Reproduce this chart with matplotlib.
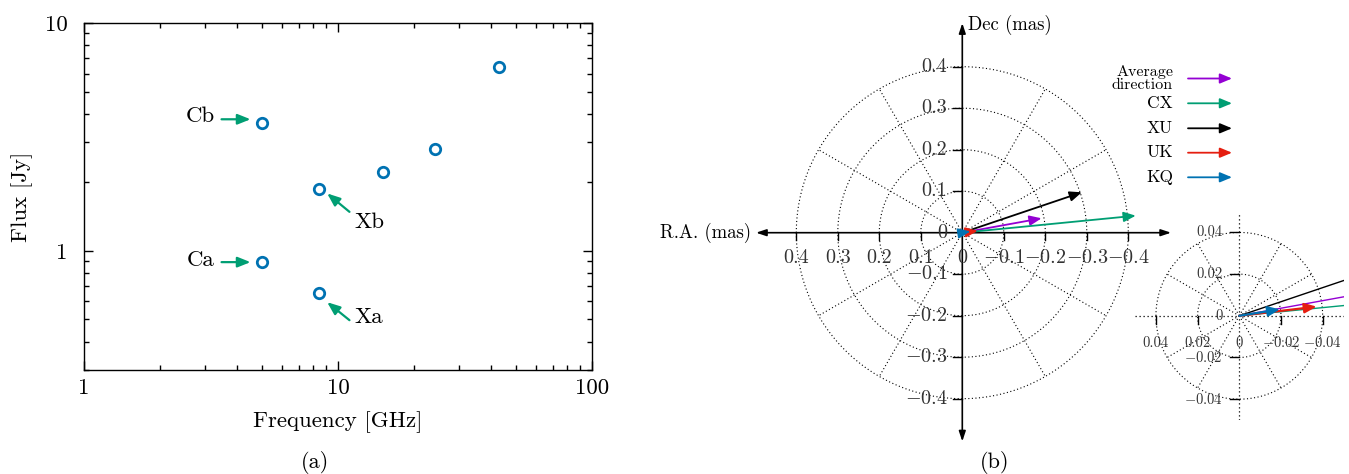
import numpy as np
import matplotlib
matplotlib.use('Agg')
import matplotlib.pyplot as plt
import matplotlib.transforms as mtransforms
from matplotlib.ticker import FixedLocator, FixedFormatter, NullFormatter, LogLocator

plt.rcParams['font.family'] = ['cmr10', 'DejaVu Serif']
plt.rcParams['mathtext.fontset'] = 'cm'
plt.rcParams['axes.unicode_minus'] = False
plt.rcParams['axes.formatter.use_mathtext'] = True

# ---------------- data: panel (a) ----------------
freq_ghz = [5.0, 5.0, 8.4, 8.4, 15.0, 24.0, 43.0]
flux_jy = [3.63, 0.895, 1.86, 0.65, 2.22, 2.80, 6.41]
point_labels = ['Cb', 'Ca', 'Xb', 'Xa']
x_ticks = [1, 10, 100]
x_ticklabels = ['1', '10', '100']
y_ticks = [1, 10]
y_ticklabels = ['1', '10']

# ---------------- data: panel (b) ----------------
vector_names = ['Average\ndirection', 'CX', 'XU', 'UK', 'KQ']
vector_ra = [-0.191, -0.418, -0.288, -0.0371, -0.0195]
vector_dec = [0.0347, 0.041, 0.0973, 0.0044, 0.0031]
vector_colors = ['#9400D3', '#009E73', '#000000', '#E51E10', '#0072B2']
main_ticks = [0.4, 0.3, 0.2, 0.1, 0.0, -0.1, -0.2, -0.3, -0.4]
main_rings = [0.1, 0.2, 0.3, 0.4]
inset_ticks = [0.04, 0.02, 0.0, -0.02, -0.04]
inset_rings = [0.02, 0.04]

W, H = 1349, 474
fig = plt.figure(figsize=(W / 100, H / 100), dpi=100)


def fx(px):
    return px / W


def fy(py):
    return 1 - py / H


def fmt(v, nd):
    s = f"{abs(v):.{nd}f}".rstrip('0').rstrip('.') if v != 0 else '0'
    if v < 0:
        return r'$-$' + s
    return s

# ================= panel (a) =================
ax1 = fig.add_axes([fx(84), fy(370), (592 - 84) / W, (370 - 23) / H])
ax1.set_xscale('log')
ax1.set_yscale('log')
ax1.set_xlim(1, 100)
ax1.set_ylim(0.3, 10)
ax1.plot(freq_ghz, flux_jy, 'o', mfc='none', mec='#0072B2', mew=2.0, ms=7.5,
         zorder=3)
ax1.xaxis.set_major_locator(FixedLocator(x_ticks))
ax1.xaxis.set_major_formatter(FixedFormatter(x_ticklabels))
ax1.yaxis.set_major_locator(FixedLocator(y_ticks))
ax1.yaxis.set_major_formatter(FixedFormatter(y_ticklabels))
ax1.xaxis.set_minor_locator(LogLocator(base=10, subs=np.arange(2, 10)))
ax1.yaxis.set_minor_locator(LogLocator(base=10, subs=np.arange(2, 10)))
ax1.xaxis.set_minor_formatter(NullFormatter())
ax1.yaxis.set_minor_formatter(NullFormatter())
ax1.tick_params(which='both', direction='in', top=True, right=True, width=1.0,
                labelsize=16.5)
ax1.tick_params(which='major', length=6.5)
ax1.tick_params(which='minor', length=3.6)
ax1.tick_params(axis='x', pad=6)
ax1.tick_params(axis='y', pad=12)
for sp in ax1.spines.values():
    sp.set_linewidth(1.0)

fig.text(fx(22), fy(197), 'Flux [Jy]', rotation=90, ha='center', va='center',
         fontsize=16.5)
fig.text(fx(338), fy(422), 'Frequency [GHz]', ha='center', va='center',
         fontsize=16.5)


def off(dx, dy):
    # offset in pixels (right, up) from a data point
    return ax1.transData + mtransforms.ScaledTranslation(dx / 100, dy / 100,
                                                        fig.dpi_scale_trans)

# (tip dx, tip dy, tail dx, tail dy, text dx, text dy, ha)
ann_layout = [
    (-11, 4, -40, 4, -47, 7.3, 'right'),
    (-11, -0.3, -40, -0.3, -47, 1.7, 'right'),
    (8.4, -4, 30.7, -22.4, 35.7, -32.4, 'left'),
    (8.4, -8.7, 30.7, -26.7, 35.7, -23.4, 'left'),
]
for i, lab in enumerate(point_labels):
    tx, ty, sx, sy, lx, ly, ha = ann_layout[i]
    f, s = freq_ghz[i], flux_jy[i]
    ax1.annotate('', xy=(f, s), xycoords=off(tx, ty),
                 xytext=(f, s), textcoords=off(sx, sy),
                 arrowprops=dict(arrowstyle='-|>,head_length=0.55,head_width=0.22',
                                 color='#009E73', lw=1.6, shrinkA=0, shrinkB=0,
                                 mutation_scale=14))
    ax1.text(f, s, lab, transform=off(lx, ly), ha=ha, va='center',
             fontsize=16.5)

fig.text(fx(315), fy(463), '(a)', ha='center', va='center', fontsize=16)

# ================= panel (b) =================
S = 415.0  # pixels per mas
cx, cy = 962.3, 232.7
L = 0.52
ax2 = fig.add_axes([fx(cx - L * S), fy(cy + L * S), 2 * L * S / W, 2 * L * S / H])
ax2.set_xlim(L, -L)
ax2.set_ylim(-L, L)
ax2.axis('off')

dot = (0, (1.0, 2.2))
theta = np.linspace(0, 2 * np.pi, 721)
for r in main_rings:
    ax2.plot(r * np.cos(theta), r * np.sin(theta), color='k', lw=0.8, ls=dot)
rmax = max(main_rings)
for ang in range(30, 360, 30):
    if ang % 90 == 0:
        continue
    a = np.deg2rad(ang)
    ax2.plot([0, rmax * np.cos(a)], [0, rmax * np.sin(a)], color='k', lw=0.8,
             ls=dot)

axis_style = dict(arrowstyle='<|-|>,head_length=0.6,head_width=0.2', color='k',
                  lw=1.2, shrinkA=0, shrinkB=0, mutation_scale=10)
ax2.annotate('', xy=(-0.503, 0), xytext=(0.497, 0), arrowprops=axis_style)
ax2.annotate('', xy=(0, 0.505), xytext=(0, -0.503), arrowprops=axis_style)

lab_col = '#333333'
for t in main_ticks:
    if t != 0:
        ax2.plot([t, t], [0, -0.018], color='k', lw=1.0)
        ax2.plot([0, 0.022], [t, t], color='k', lw=1.0)
    ax2.text(t, -0.062, fmt(t, 1), ha='center', va='center', fontsize=14.5,
             color=lab_col)
    ax2.text(0.036, t, fmt(t, 1), ha='right', va='center', fontsize=14.5,
             color=lab_col)

ax2.text(0.51, 0.0, 'R.A. (mas)', ha='right', va='center', fontsize=13.5)
ax2.text(-0.013, 0.5, 'Dec (mas)', ha='left', va='center', fontsize=13.5)

for ra, dec, c in zip(vector_ra, vector_dec, vector_colors):
    ax2.annotate('', xy=(ra, dec), xytext=(0, 0),
                 arrowprops=dict(arrowstyle='-|>,head_length=0.6,head_width=0.25',
                                 color=c, lw=1.3, shrinkA=0, shrinkB=0,
                                 mutation_scale=12))

# legend
row_y = [78.5, 103.3, 128.3, 152.7, 177.3]
for name, c, y in zip(vector_names, vector_colors, row_y):
    fig.text(fx(1173), fy(y), name, ha='right', va='center',
             fontsize=11.5 if '\n' in name else 12.5, linespacing=0.85)
    ax2.annotate('', xy=(fx(1232), fy(y)), xycoords='figure fraction',
                 xytext=(fx(1188), fy(y)), textcoords='figure fraction',
                 arrowprops=dict(arrowstyle='-|>,head_length=0.6,head_width=0.25',
                                 color=c, lw=1.3, shrinkA=0, shrinkB=0,
                                 mutation_scale=12))

# inset
Si = 2084.0
icx, icy = 1239.3, 315.8
Li = 0.05
ax3 = fig.add_axes([fx(icx - Li * Si), fy(icy + Li * Si), 2 * Li * Si / W,
                    2 * Li * Si / H])
ax3.set_xlim(Li, -Li)
ax3.set_ylim(-Li, Li)
ax3.axis('off')
ax3.patch.set_visible(False)
ax3.plot([Li, -Li], [0, 0], color='k', lw=0.9, ls=dot)
ax3.plot([0, 0], [-Li, Li], color='k', lw=0.9, ls=dot)
for r in inset_rings:
    ax3.plot(r * np.cos(theta), r * np.sin(theta), color='k', lw=0.8, ls=dot)
rimax = max(inset_rings)
for ang in range(30, 360, 30):
    if ang % 90 == 0:
        continue
    a = np.deg2rad(ang)
    ax3.plot([0, rimax * np.cos(a)], [0, rimax * np.sin(a)], color='k', lw=0.8,
             ls=dot)
for t in inset_ticks:
    if t != 0:
        ax3.plot([t, t], [0, -0.0038], color='k', lw=1.0)
        ax3.plot([0, 0.0043], [t, t], color='k', lw=1.0)
    ax3.text(t, -0.0129, fmt(t, 2), ha='center', va='center', fontsize=10.5,
             color=lab_col)
    ax3.text(0.0078, t, fmt(t, 2), ha='right', va='center', fontsize=10.5,
             color=lab_col)

for ra, dec, c in zip(vector_ra, vector_dec, vector_colors):
    if abs(ra) > Li:
        ax3.plot([0, ra], [0, dec], color=c, lw=1.0)
    else:
        ax3.annotate('', xy=(ra, dec), xytext=(0, 0),
                     arrowprops=dict(arrowstyle='-|>,head_length=0.6,head_width=0.25',
                                     color=c, lw=1.6, shrinkA=0, shrinkB=0,
                                     mutation_scale=12))

fig.text(fx(995), fy(463), '(b)', ha='center', va='center', fontsize=16)

fig.savefig('out.png', dpi=100)
